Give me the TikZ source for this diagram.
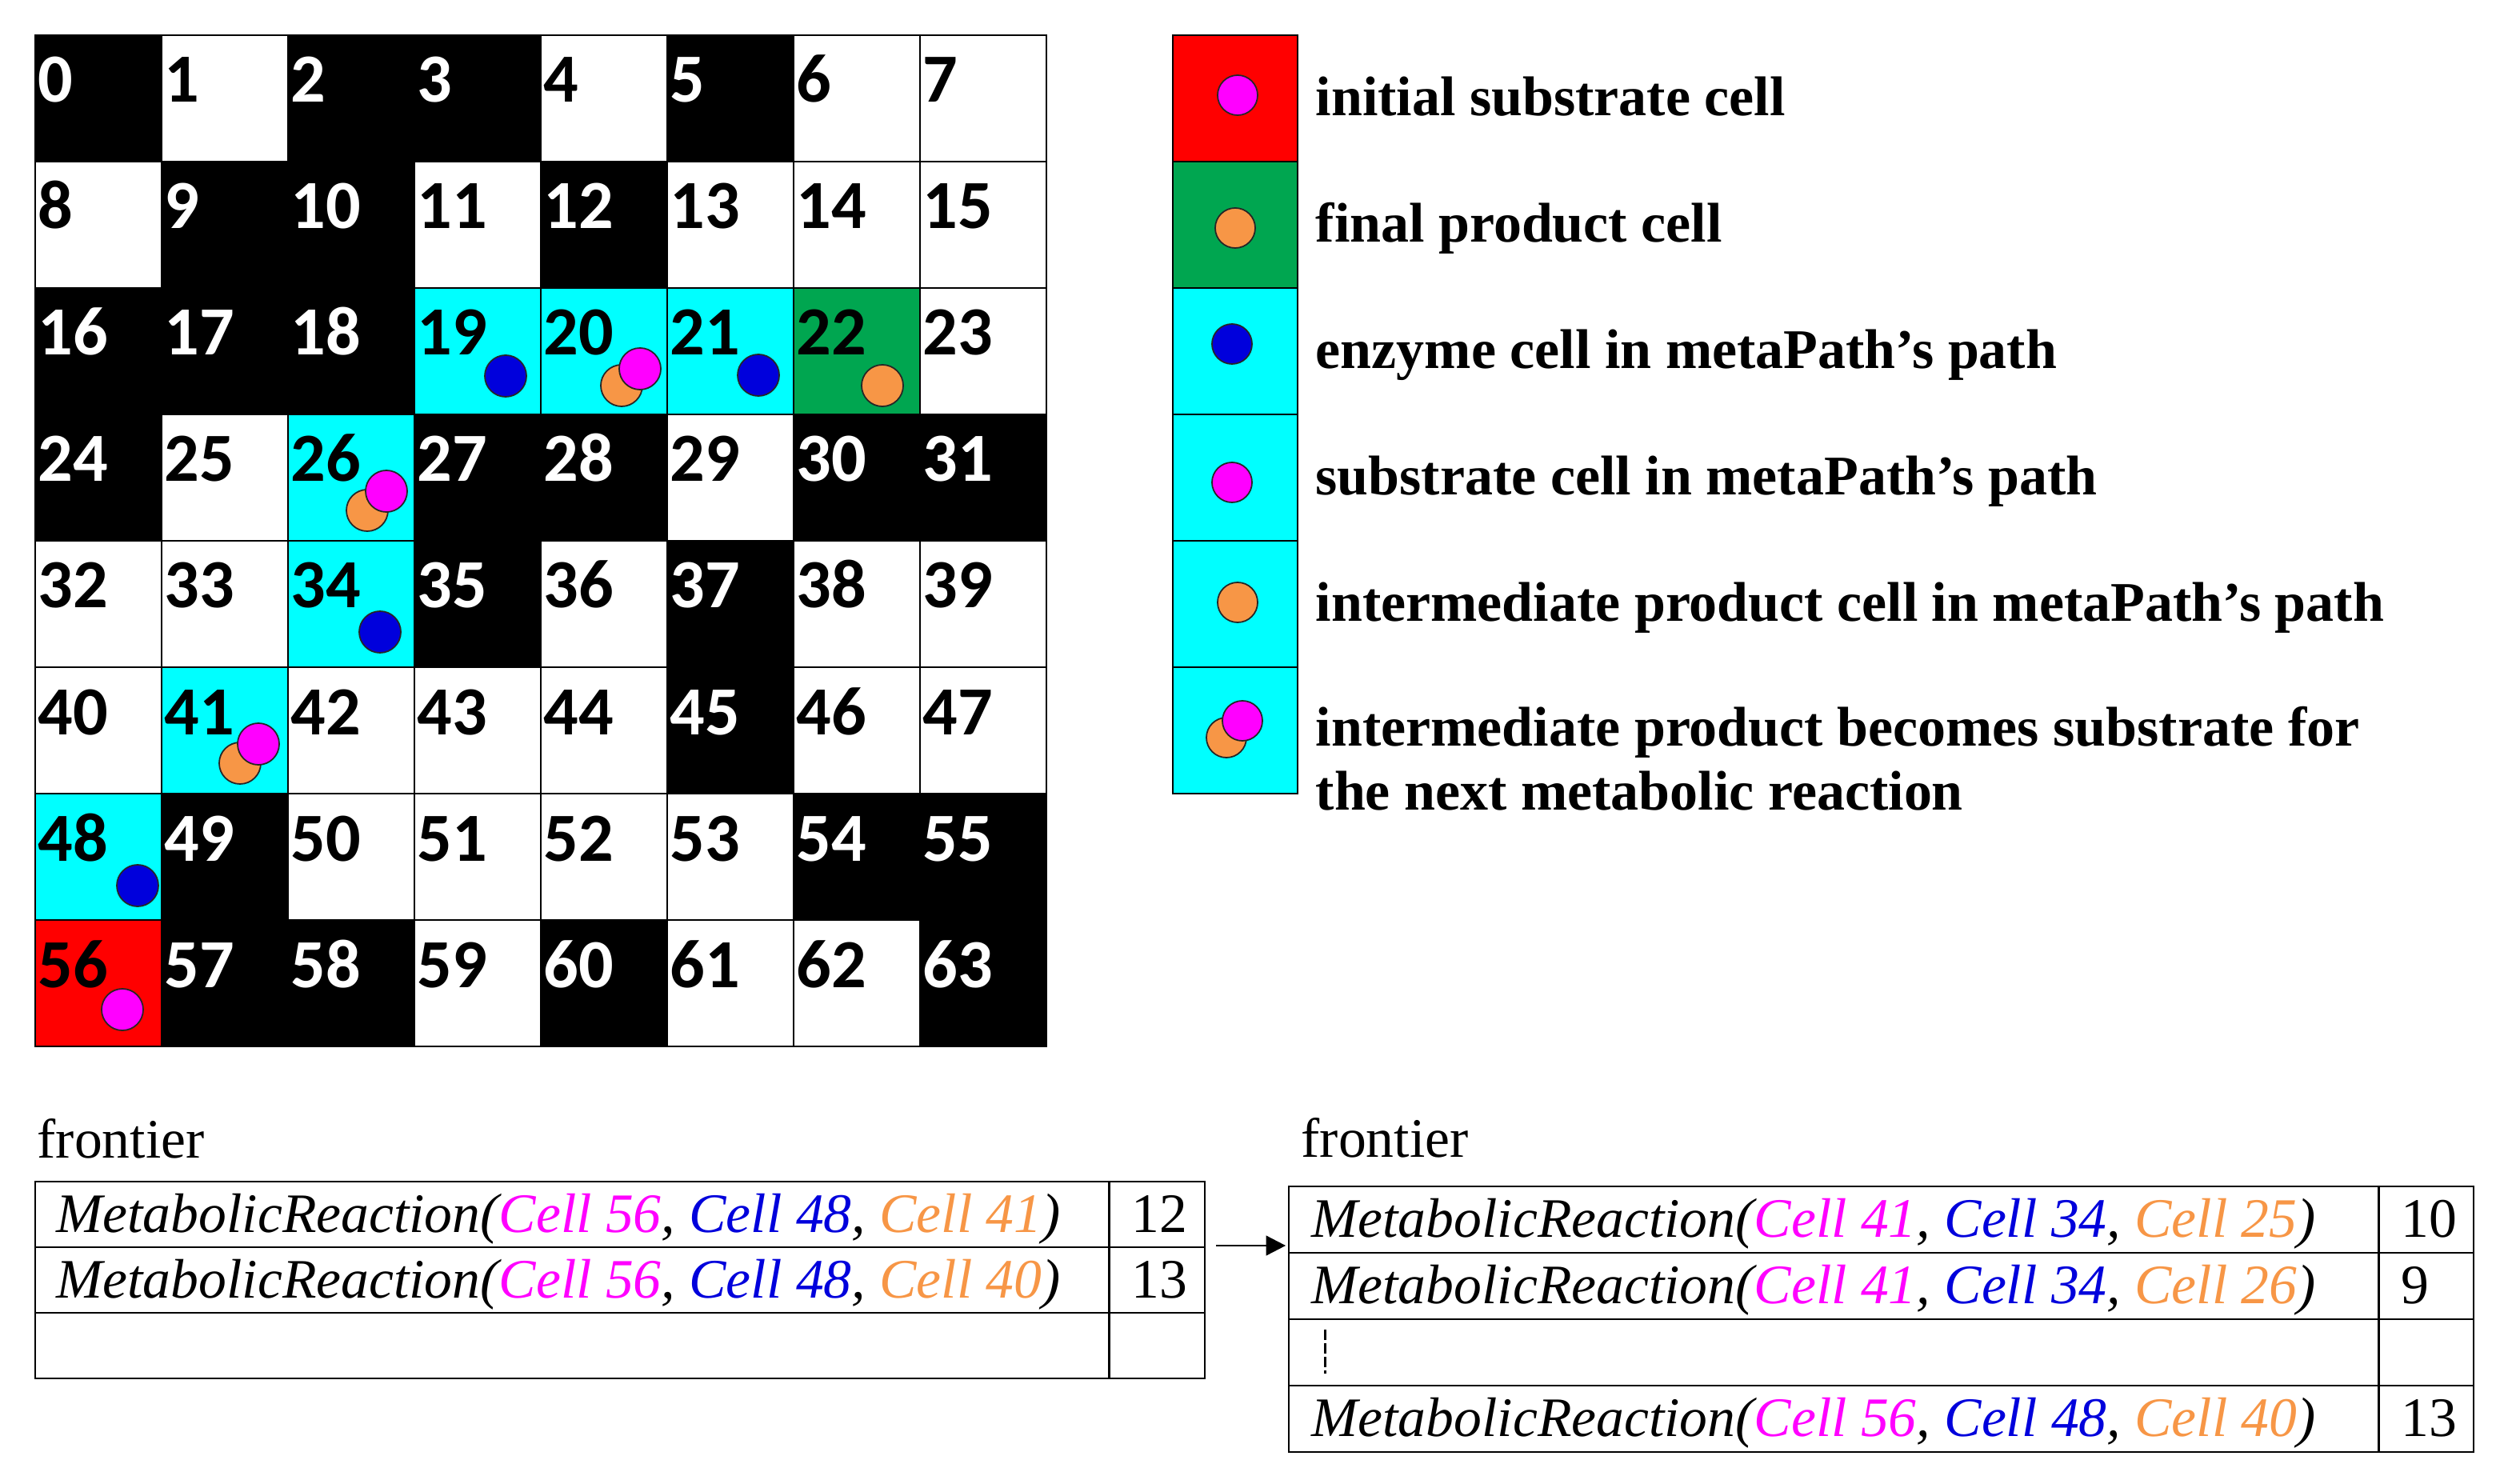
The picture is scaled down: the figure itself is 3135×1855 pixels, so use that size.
\documentclass[tikz,border=0pt]{standalone}
\usepackage{fontspec}
\setmainfont{Liberation Serif}
\newfontfamily\numfont{Carlito}
\usetikzlibrary{arrows.meta}
\definecolor{mag}{RGB}{255,0,255}
\definecolor{enz}{RGB}{0,0,220}
\definecolor{org}{RGB}{247,150,70}
\definecolor{cyn}{RGB}{0,255,255}
\definecolor{grn}{RGB}{0,166,80}
\definecolor{rd}{RGB}{255,0,0}
\colorlet{fK}{black}\colorlet{fW}{white}\colorlet{fC}{cyn}\colorlet{fG}{grn}\colorlet{fR}{rd}
\colorlet{tK}{white}\colorlet{tW}{black}\colorlet{tC}{black}\colorlet{tG}{black}\colorlet{tR}{black}
\newcommand\MetaRx[3]{MetabolicReaction(\textcolor{mag}{Cell #1}, \textcolor{enz}{Cell #2}, \textcolor{org}{Cell #3})}
\begin{document}
\begin{tikzpicture}[x=0.01cm,y=-0.01cm,
  gridcell/.style={draw=black,line width=0.6pt,minimum width=1.58cm,minimum height=1.58cm,inner sep=0pt,outer sep=0pt,anchor=north west},
  numlabel/.style={anchor=base west,inner sep=0pt,font=\numfont\bfseries\fontsize{24.5}{28}\selectfont},
  dot/.style={circle,draw=black!85,line width=0.5pt,minimum size=0.52cm,inner sep=0pt},
  subdot/.style={dot,fill=mag}, proddot/.style={dot,fill=org}, enzdot/.style={dot,fill=enz},
  legdot/.style={minimum size=0.50cm},
  legtext/.style={anchor=base west,inner sep=0pt,font=\bfseries\fontsize{19.9}{22.8}\selectfont},
  tabtext/.style={anchor=base west,inner sep=0pt,font=\fontsize{19.8}{22.8}\selectfont},
  tcell/.style={draw=black,line width=0.7pt,inner sep=0pt,outer sep=0pt,anchor=north west},
]
\useasboundingbox (0,0) rectangle (3135,1855);
\fill[white] (0,0) rectangle (3135,1855);
% grid
\foreach \c [count=\i from 0] in {K,W,K,K,W,K,W,W, W,K,K,W,K,W,W,W, K,K,K,C,C,C,G,W, K,W,C,K,K,W,K,K, W,W,C,K,W,K,W,W, W,C,W,W,W,K,W,W, C,K,W,W,W,W,K,K, R,K,K,W,K,W,W,K}{
  \pgfmathtruncatemacro\row{\i/8}
  \pgfmathtruncatemacro\col{\i-8*\row}
  \node[gridcell,fill=f\c] (cell\i) at (44+158*\col,44+158*\row) {};
  \node[numlabel,text=t\c] (num\i) at (47+158*\col,128+158*\row) {\i};
}
% dots in grid
\node[enzdot] (e19) at (632,470) {};
\node[proddot] (p20) at (777,482) {};
\node[subdot] (s20) at (800,461) {};
\node[enzdot] (e21) at (948,469) {};
\node[proddot] (p22) at (1103,482) {};
\node[proddot] (p26) at (459,638) {};
\node[subdot] (s26) at (483,614) {};
\node[enzdot] (e34) at (475,790) {};
\node[proddot] (p41) at (300,954) {};
\node[subdot] (s41) at (323,930) {};
\node[enzdot] (e48) at (172,1107) {};
\node[subdot] (s56) at (153,1262) {};
% legend
\node[gridcell,minimum width=1.56cm,fill=rd] (leg1) at (1466,44) {};
\node[gridcell,minimum width=1.56cm,fill=grn] (leg2) at (1466,202) {};
\node[gridcell,minimum width=1.56cm,fill=cyn] (leg3) at (1466,360) {};
\node[gridcell,minimum width=1.56cm,fill=cyn] (leg4) at (1466,518) {};
\node[gridcell,minimum width=1.56cm,fill=cyn] (leg5) at (1466,676) {};
\node[gridcell,minimum width=1.56cm,fill=cyn] (leg6) at (1466,834) {};
\node[subdot,legdot] (ld1) at (1547,119) {};
\node[proddot,legdot] (ld2) at (1544,285) {};
\node[enzdot,legdot] (ld3) at (1540,430) {};
\node[subdot,legdot] (ld4) at (1540,603) {};
\node[proddot,legdot] (ld5) at (1547,753) {};
\node[proddot,legdot] (ld6a) at (1533,922) {};
\node[subdot,legdot] (ld6b) at (1553,901) {};
\node[legtext] (lt1) at (1644,145) {initial substrate cell};
\node[legtext] (lt2) at (1644,303) {final product cell};
\node[legtext] (lt3) at (1644,461) {enzyme cell in metaPath’s path};
\node[legtext] (lt4) at (1644,619) {substrate cell in metaPath’s path};
\node[legtext] (lt5) at (1644,777) {intermediate product cell in metaPath’s path};
\node[legtext] (lt6) at (1644,932) {intermediate product becomes substrate for};
\node[legtext] (lt7) at (1644,1012) {the next metabolic reaction};
% left frontier table
\node[tabtext] (front1) at (46,1447) {frontier};
\node[tcell,minimum width=13.42cm,minimum height=0.82cm] (l1a) at (44,1477) {};
\node[tcell,minimum width=1.20cm,minimum height=0.82cm] (l1b) at (1386,1477) {};
\node[tcell,minimum width=13.42cm,minimum height=0.82cm] (l2a) at (44,1559) {};
\node[tcell,minimum width=1.20cm,minimum height=0.82cm] (l2b) at (1386,1559) {};
\node[tcell,minimum width=13.42cm,minimum height=0.82cm] (l3a) at (44,1641) {};
\node[tcell,minimum width=1.20cm,minimum height=0.82cm] (l3b) at (1386,1641) {};
\node[tabtext] (lx1) at (70,1540) {\itshape\MetaRx{56}{48}{41}};
\node[tabtext] (lx2) at (70,1622) {\itshape\MetaRx{56}{48}{40}};
\node[tabtext] (ln1) at (1414,1540) {12};
\node[tabtext] (ln2) at (1414,1622) {13};
% right frontier table
\node[tabtext] (front2) at (1626,1446) {frontier};
\node[tcell,minimum width=13.62cm,minimum height=0.83cm] (r1a) at (1611,1483) {};
\node[tcell,minimum width=1.19cm,minimum height=0.83cm] (r1b) at (2973,1483) {};
\node[tcell,minimum width=13.62cm,minimum height=0.83cm] (r2a) at (1611,1566) {};
\node[tcell,minimum width=1.19cm,minimum height=0.83cm] (r2b) at (2973,1566) {};
\node[tcell,minimum width=13.62cm,minimum height=0.83cm] (r3a) at (1611,1649) {};
\node[tcell,minimum width=1.19cm,minimum height=0.83cm] (r3b) at (2973,1649) {};
\node[tcell,minimum width=13.62cm,minimum height=0.83cm] (r4a) at (1611,1732) {};
\node[tcell,minimum width=1.19cm,minimum height=0.83cm] (r4b) at (2973,1732) {};
\node[tabtext] (rx1) at (1639,1546) {\itshape\MetaRx{41}{34}{25}};
\node[tabtext] (rx2) at (1639,1629) {\itshape\MetaRx{41}{34}{26}};
\node[tabtext] (rx4) at (1639,1795) {\itshape\MetaRx{56}{48}{40}};
\node[tabtext] (rn1) at (3001,1546) {10};
\node[tabtext] (rn2) at (3001,1629) {9};
\node[tabtext] (rn4) at (3001,1795) {13};
\draw[line width=0.85pt,dash pattern=on 3.7pt off 1.15pt] (1656,1662) -- (1656,1717);
% arrow
\coordinate (arrS) at (1520,1557);
\draw[line width=0.8pt,-{Triangle[length=7pt,width=7pt]},shorten >=1.1pt] (arrS) -- (arrS -| r1a.west);
\end{tikzpicture}
\end{document}
